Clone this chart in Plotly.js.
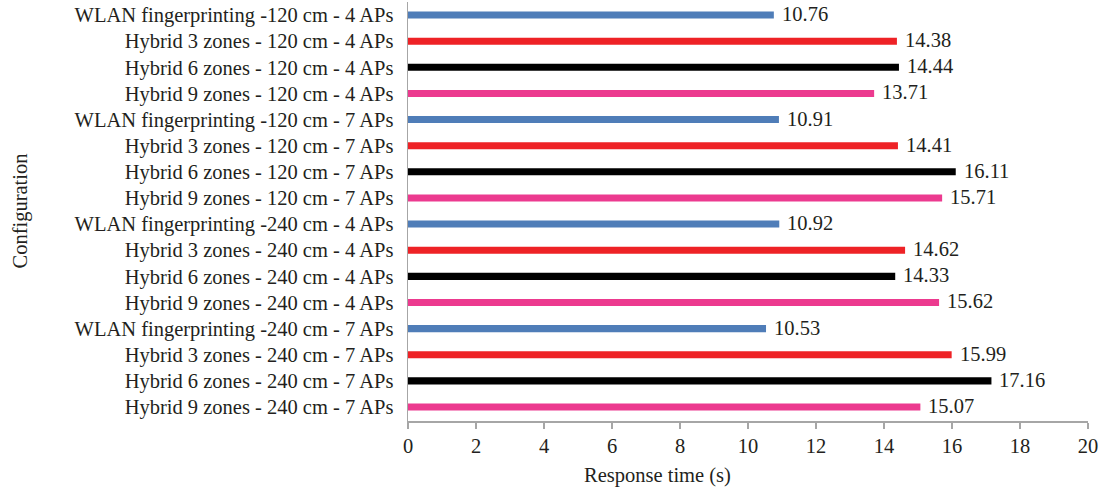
<!DOCTYPE html>
<html>
<head>
<meta charset="utf-8">
<script src="https://cdn.plot.ly/plotly-3.0.1.min.js"></script>
<style>
  html, body { margin: 0; padding: 0; background: #fff; }
  #chart { width: 1103px; height: 490px; }
</style>
</head>
<body>
<div id="chart"></div>
<script>
// Configurations, listed top to bottom
const configurations = [
  "WLAN fingerprinting -120 cm - 4 APs",
  "Hybrid 3 zones - 120 cm - 4 APs",
  "Hybrid 6 zones - 120 cm - 4 APs",
  "Hybrid 9 zones - 120 cm - 4 APs",
  "WLAN fingerprinting -120 cm - 7 APs",
  "Hybrid 3 zones - 120 cm - 7 APs",
  "Hybrid 6 zones - 120 cm - 7 APs",
  "Hybrid 9 zones - 120 cm - 7 APs",
  "WLAN fingerprinting -240 cm - 4 APs",
  "Hybrid 3 zones - 240 cm - 4 APs",
  "Hybrid 6 zones - 240 cm - 4 APs",
  "Hybrid 9 zones - 240 cm - 4 APs",
  "WLAN fingerprinting -240 cm - 7 APs",
  "Hybrid 3 zones - 240 cm - 7 APs",
  "Hybrid 6 zones - 240 cm - 7 APs",
  "Hybrid 9 zones - 240 cm - 7 APs"
];

// Response time in seconds
const responseTimes = [
  10.76, 14.38, 14.44, 13.71,
  10.91, 14.41, 16.11, 15.71,
  10.92, 14.62, 14.33, 15.62,
  10.53, 15.99, 17.16, 15.07
];

// Method of each configuration (drives the bar colour)
const methods = [
  "WLAN", "Hybrid 3", "Hybrid 6", "Hybrid 9",
  "WLAN", "Hybrid 3", "Hybrid 6", "Hybrid 9",
  "WLAN", "Hybrid 3", "Hybrid 6", "Hybrid 9",
  "WLAN", "Hybrid 3", "Hybrid 6", "Hybrid 9"
];

const methodColors = {
  "WLAN": "#4F7DB8",
  "Hybrid 3": "#EE2226",
  "Hybrid 6": "#000000",
  "Hybrid 9": "#EC3A8F"
};

const xTicks = [0, 2, 4, 6, 8, 10, 12, 14, 16, 18, 20];

const serif = "'Liberation Serif', 'DejaVu Serif', serif";
const textColor = "#231F20";
const axisColor = "#A6A6A6";
const fontSize = 20.5;

const trace = {
  type: "bar",
  orientation: "h",
  y: configurations,
  x: responseTimes,
  width: 0.27,
  marker: { color: methods.map(m => methodColors[m]) },
  hoverinfo: "x+y",
  showlegend: false
};

// Value labels placed just past the end of each bar
const valueLabels = configurations.map((c, i) => ({
  x: responseTimes[i],
  y: c,
  xref: "x",
  yref: "y",
  text: responseTimes[i].toFixed(2),
  showarrow: false,
  xanchor: "left",
  yanchor: "middle",
  xshift: 6,
  yshift: 1,
  font: { family: serif, size: fontSize, color: textColor }
}));

// Axis titles drawn as annotations so they can sit off-centre
const yTitle = {
  text: "Configuration",
  xref: "paper",
  yref: "paper",
  x: -388 / 680,
  y: 0.5,
  xanchor: "center",
  yanchor: "middle",
  textangle: -90,
  showarrow: false,
  font: { family: serif, size: fontSize, color: textColor }
};

const xTitle = {
  text: "Response time (s)",
  xref: "paper",
  yref: "paper",
  x: 249 / 680,
  y: -54 / 419,
  xanchor: "center",
  yanchor: "middle",
  showarrow: false,
  font: { family: serif, size: fontSize, color: textColor }
};

const layout = {
  width: 1103,
  height: 490,
  margin: { l: 408, r: 15, t: 2, b: 69 },
  paper_bgcolor: "#ffffff",
  plot_bgcolor: "#ffffff",
  font: { family: serif, size: fontSize, color: textColor },
  xaxis: {
    range: [0, 20],
    tickvals: xTicks,
    ticktext: xTicks.map(String),
    showgrid: false,
    zeroline: false,
    showline: true,
    linecolor: axisColor,
    linewidth: 1.5,
    ticks: "outside",
    ticklen: 6,
    tickwidth: 1.5,
    tickcolor: axisColor,
    tickfont: { family: serif, size: fontSize, color: textColor },
    fixedrange: true
  },
  yaxis: {
    type: "category",
    categoryorder: "array",
    categoryarray: configurations,
    autorange: "reversed",
    showgrid: false,
    zeroline: false,
    showline: true,
    linecolor: axisColor,
    linewidth: 1.5,
    ticks: "",
    ticklabelstandoff: 9,
    tickfont: { family: serif, size: fontSize, color: textColor },
    fixedrange: true
  },
  annotations: valueLabels.concat([yTitle, xTitle]),
  bargap: 0.73
};

Plotly.newPlot("chart", [trace], layout, { displayModeBar: false, staticPlot: true });
</script>
</body>
</html>
